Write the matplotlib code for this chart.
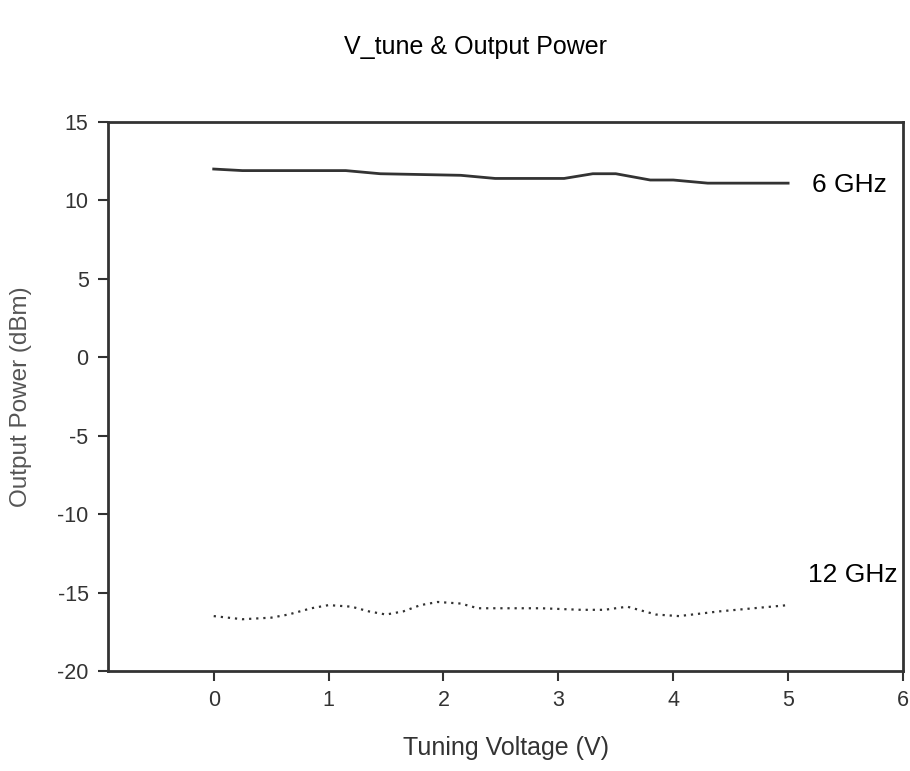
import matplotlib.pyplot as plt

# tuning voltage (V) vs output power (dBm)
v_6ghz = [0, 0.25, 1.15, 1.45, 2.15, 2.45, 3.05, 3.3, 3.5, 3.8, 4.0, 4.3, 5.0]
p_6ghz = [12.0, 11.9, 11.9, 11.7, 11.6, 11.4, 11.4, 11.7, 11.7, 11.3, 11.3, 11.1, 11.1]

v_12ghz = [0, 0.25, 0.5, 0.65, 0.85, 1.0, 1.2, 1.35, 1.5, 1.65, 1.8, 1.95, 2.15,
           2.3, 2.85, 3.2, 3.4, 3.6, 3.85, 4.05, 4.4, 4.7, 5.0]
p_12ghz = [-16.5, -16.7, -16.6, -16.4, -16.0, -15.8, -15.9, -16.2, -16.4, -16.2, -15.8, -15.6, -15.7,
           -16.0, -16.0, -16.1, -16.1, -15.9, -16.4, -16.5, -16.2, -16.0, -15.8]

xticks = [0, 1, 2, 3, 4, 5, 6]
yticks = [15, 10, 5, 0, -5, -10, -15, -20]

plt.rcParams["font.family"] = ["Liberation Sans", "DejaVu Sans"]
plt.rcParams["axes.unicode_minus"] = False
txt = "#333333"

fig = plt.figure(figsize=(9.1, 7.71), dpi=100)
ax = fig.add_axes([0.1187, 0.1297, 0.8736, 0.7121])

ax.plot(v_6ghz, p_6ghz, color="#333333", linewidth=2)
ax.plot(v_12ghz, p_12ghz, color="#333333", linewidth=1.6, linestyle=(0, (1, 2.2)))

ax.text(5.21, 11.0, "6 GHz", fontsize=19, color="black", va="center", ha="left")
ax.text(5.17, -13.9, "12 GHz", fontsize=19, color="black", va="center", ha="left")

ax.set_xlim(-0.92, 6)
ax.set_ylim(-20, 15)
ax.set_xticks(xticks)
ax.set_yticks(yticks)
ax.tick_params(direction="out", length=7, width=1.5, colors="#333333",
               labelsize=15.5, labelcolor=txt, pad=7)
for s in ax.spines.values():
    s.set_linewidth(2)
    s.set_color("#333333")

ax.set_xlabel("Tuning Voltage (V)", fontsize=18, color=txt, labelpad=18)
ax.set_ylabel("Output Power (dBm)", fontsize=17.5, color="#555555", labelpad=18)
fig.suptitle("V_tune & Output Power", fontsize=18, color="black", x=0.522, y=0.955)

fig.savefig("out.png", dpi=100)
